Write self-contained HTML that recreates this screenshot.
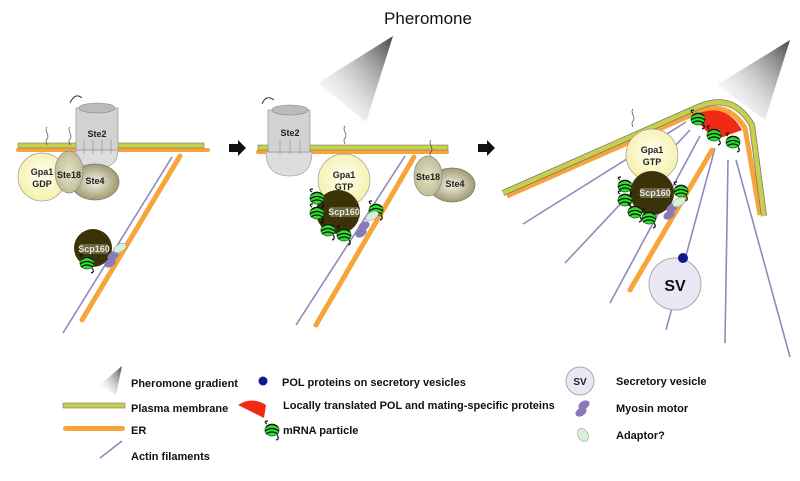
<!DOCTYPE html>
<html><head><meta charset="utf-8"><style>
body{margin:0;background:#fff}
svg{display:block;font-family:"Liberation Sans",Arial,sans-serif}
.l{font-size:11px;font-weight:bold;fill:#111}
.p{font-size:9px;font-weight:bold;fill:#222}
</style></head><body>
<svg width="800" height="481" viewBox="0 0 800 481">
<defs>
<linearGradient id="g1" x1="1" y1="0" x2="0" y2="1"><stop offset="0" stop-color="#444"/><stop offset="1" stop-color="#fff" stop-opacity="0"/></linearGradient>
<radialGradient id="gy" cx=".5" cy=".45" r=".6"><stop offset="0" stop-color="#fffff0"/><stop offset="1" stop-color="#f5efa5"/></radialGradient>
<radialGradient id="gs" cx=".5" cy=".5" r=".6"><stop offset="0" stop-color="#e6e4c8"/><stop offset="1" stop-color="#b9b68f"/></radialGradient>
<radialGradient id="g4" cx=".5" cy=".5" r=".6"><stop offset="0" stop-color="#f4f2e4"/><stop offset="1" stop-color="#8d8a5c"/></radialGradient>
<g id="m"><ellipse cx="0" cy="0" rx="7" ry="6" fill="#2ee02e" stroke="#0a6a0a" stroke-width=".8"/><path d="M-6-3 Q0-8 6-3 M-7 1 Q0-4 7 1 M-6 4 Q0 0 6 4 M-5-6 Q-9-9-4-9 M5 5 Q8 9 4 10" fill="none" stroke="#111" stroke-width="1.2"/></g>
<g id="my"><ellipse cx="0" cy="0" rx="6" ry="4" fill="#8a7ab8" transform="rotate(-30)"/><ellipse cx="-3" cy="7" rx="6" ry="4" fill="#8a7ab8" transform="rotate(-30 -3 7)"/></g>
</defs>
<text x="428" y="24" font-size="17" text-anchor="middle" fill="#111">Pheromone</text>

<!-- Panel 1 -->
<rect x="16" y="148" width="194" height="4" rx="2" fill="#f7a43a"/>
<rect x="18" y="143" width="186" height="5" fill="#c8cf4a" stroke="#777" stroke-width=".6"/>
<line x1="63" y1="333" x2="172" y2="157" stroke="#9189bb" stroke-width="1.6"/>
<line x1="82" y1="320" x2="180" y2="156" stroke="#f7a43a" stroke-width="5" stroke-linecap="round"/>
<path d="M76 150 Q76 168 98 168 Q118 168 118 150Z" fill="#ddd" stroke="#999" stroke-width=".6"/>
<rect x="76" y="108" width="42" height="42" fill="#d2d2d2" stroke="#888" stroke-width=".6"/>
<path d="M84 140v14M93 140v14M102 140v14M111 140v14" stroke="#888" stroke-width=".6"/>
<ellipse cx="97" cy="108" rx="18" ry="5" fill="#bbb" stroke="#888" stroke-width=".6"/>
<path d="M70 103 Q75 92 82 98" fill="none" stroke="#333"/>
<text x="97" y="137" class="p" text-anchor="middle">Ste2</text>
<path d="M47 145q-2-4 0-6t0-6 0-6M70 145q-2-4 0-6t0-6 0-6" fill="none" stroke="#444" stroke-width=".7"/>
<circle cx="42" cy="177" r="24" fill="url(#gy)" stroke="#999" stroke-width=".7"/>
<ellipse cx="95" cy="182" rx="24" ry="18" fill="url(#g4)" stroke="#777" stroke-width=".7"/>
<ellipse cx="69" cy="172" rx="14" ry="21" fill="url(#gs)" stroke="#888" stroke-width=".7"/>
<text x="42" y="175" class="p" text-anchor="middle">Gpa1</text><text x="42" y="187" class="p" text-anchor="middle">GDP</text>
<text x="69" y="178" class="p" text-anchor="middle">Ste18</text><text x="95" y="184" class="p" text-anchor="middle">Ste4</text>
<circle cx="93" cy="248" r="19" fill="#3c3208"/>
<rect x="80" y="244" width="28" height="10" fill="#6a6445"/>
<text x="94" y="252" class="p" text-anchor="middle" fill="#eee" style="fill:#e8e8d8">Scp160</text>
<use href="#m" x="87" y="263"/>
<use href="#my" x="113" y="256"/>
<ellipse cx="120" cy="248" rx="7" ry="4" fill="#d8f0d8" stroke="#888" stroke-width=".5" transform="rotate(-30 120 248)"/>
<path d="M229 144h9v-4l8 8-8 8v-4h-9z" fill="#111"/>

<!-- Panel 2 -->
<polygon points="393,36 318,83 366,122" fill="url(#g1)"/>
<rect x="256" y="150" width="193" height="4" rx="2" fill="#f7a43a"/>
<rect x="258" y="145" width="190" height="5" fill="#c8cf4a" stroke="#777" stroke-width=".6"/>
<line x1="296" y1="325" x2="405" y2="156" stroke="#9189bb" stroke-width="1.6"/>
<line x1="316" y1="325" x2="414" y2="157" stroke="#f7a43a" stroke-width="5" stroke-linecap="round"/>
<path d="M266 152 Q266 176 290 176 Q312 176 312 152Z" fill="#ddd" stroke="#999" stroke-width=".6"/>
<rect x="268" y="110" width="42" height="42" fill="#d2d2d2" stroke="#888" stroke-width=".6"/>
<path d="M280 140v14M290 140v14M300 140v14" stroke="#888" stroke-width=".6"/>
<ellipse cx="290" cy="110" rx="18" ry="5" fill="#bbb" stroke="#888" stroke-width=".6"/>
<path d="M262 104 Q266 94 274 100" fill="none" stroke="#333"/>
<text x="290" y="136" class="p" text-anchor="middle">Ste2</text>
<path d="M345 144q-2-4 0-6t0-6 0-6M431 158q-2-4 0-6t0-6 0-6" fill="none" stroke="#444" stroke-width=".7"/>
<circle cx="344" cy="180" r="26" fill="url(#gy)" stroke="#999" stroke-width=".7"/>
<text x="344" y="178" class="p" text-anchor="middle">Gpa1</text><text x="344" y="190" class="p" text-anchor="middle">GTP</text>
<ellipse cx="452" cy="185" rx="23" ry="17" fill="url(#g4)" stroke="#777" stroke-width=".7"/>
<ellipse cx="428" cy="176" rx="14" ry="20" fill="url(#gs)" stroke="#888" stroke-width=".7"/>
<text x="428" y="180" class="p" text-anchor="middle">Ste18</text><text x="455" y="187" class="p" text-anchor="middle">Ste4</text>
<circle cx="338" cy="212" r="22" fill="#3c3208"/>
<rect x="330" y="207" width="28" height="10" fill="#6a6445"/>
<text x="344" y="215" class="p" text-anchor="middle" style="fill:#e8e8d8">Scp160</text>
<use href="#m" x="317" y="198"/><use href="#m" x="317" y="213"/><use href="#m" x="328" y="230"/><use href="#m" x="344" y="235"/><use href="#m" x="376" y="210"/>
<use href="#my" x="364" y="226"/>
<ellipse cx="372" cy="216" rx="7" ry="4" fill="#d8f0d8" stroke="#888" stroke-width=".5" transform="rotate(-30 372 216)"/>
<path d="M478 144h9v-4l8 8-8 8v-4h-9z" fill="#111"/>

<!-- Panel 3 -->
<polygon points="790,40 717,85 765,120" fill="url(#g1)"/>
<path d="M507 196 L698 112 Q728 100 745 128 L760 215" fill="none" stroke="#f7a43a" stroke-width="5"/>
<path d="M503 193 L698 107 Q733 92 752 125 L764 216" fill="none" stroke="#777" stroke-width="6"/>
<path d="M503 193 L698 107 Q733 92 752 125 L764 216" fill="none" stroke="#c8cf4a" stroke-width="4.5"/>
<path d="M692 116 Q725 100 742 130 L715 140 Z" fill="#f02a14"/>
<g stroke="#9189bb" stroke-width="1.6">
<line x1="523" y1="224" x2="686" y2="122"/><line x1="565" y1="263" x2="690" y2="130"/><line x1="610" y1="303" x2="700" y2="136"/>
<line x1="666" y1="330" x2="715" y2="148"/><line x1="725" y1="343" x2="728" y2="160"/><line x1="790" y1="357" x2="736" y2="160"/></g>
<line x1="630" y1="290" x2="712" y2="150" stroke="#f7a43a" stroke-width="5" stroke-linecap="round"/>
<use href="#m" x="698" y="119"/><use href="#m" x="714" y="135"/><use href="#m" x="733" y="142"/>
<path d="M633 127q-2-4 0-6t0-6 0-6" fill="none" stroke="#444" stroke-width=".7"/>
<circle cx="652" cy="155" r="26" fill="url(#gy)" stroke="#999" stroke-width=".7"/>
<text x="652" y="153" class="p" text-anchor="middle">Gpa1</text><text x="652" y="165" class="p" text-anchor="middle">GTP</text>
<circle cx="652" cy="193" r="22" fill="#3c3208"/>
<rect x="640" y="188" width="30" height="10" fill="#6a6445"/>
<text x="655" y="196" class="p" text-anchor="middle" style="fill:#e8e8d8">Scp160</text>
<use href="#m" x="625" y="186"/><use href="#m" x="625" y="200"/><use href="#m" x="635" y="212"/><use href="#m" x="649" y="218"/><use href="#m" x="681" y="191"/>
<use href="#my" x="672" y="208"/>
<ellipse cx="679" cy="202" rx="7" ry="4" fill="#d8f0d8" stroke="#888" stroke-width=".5" transform="rotate(-30 679 202)"/>
<circle cx="675" cy="284" r="26" fill="#e8e7f3" stroke="#aaa"/>
<text x="675" y="291" font-size="16" font-weight="bold" text-anchor="middle" fill="#111">SV</text>
<circle cx="683" cy="258" r="5" fill="#0e1a8c"/>

<!-- Legend -->
<polygon points="122,366 100,385 116,395" fill="url(#g1)"/>
<rect x="63" y="403" width="62" height="5" fill="#c8cf4a" stroke="#777" stroke-width=".6"/>
<rect x="63" y="426" width="62" height="5" rx="2.5" fill="#f7a43a"/>
<line x1="100" y1="458" x2="122" y2="441" stroke="#9189bb" stroke-width="1.6"/>
<text x="131" y="387" class="l">Pheromone gradient</text>
<text x="131" y="412" class="l">Plasma membrane</text>
<text x="131" y="434" class="l">ER</text>
<text x="131" y="460" class="l">Actin filaments</text>
<circle cx="263" cy="381" r="4.5" fill="#0e1a8c"/>
<path d="M238 405 Q252 396 266 405 L264 418 Z" fill="#f02a14"/>
<use href="#m" x="272" y="430"/>
<text x="282" y="386" class="l">POL proteins on secretory vesicles</text>
<text x="283" y="409" class="l">Locally translated POL and mating-specific proteins</text>
<text x="283" y="434" class="l">mRNA particle</text>
<circle cx="580" cy="381" r="14" fill="#e8e7f3" stroke="#aaa"/>
<text x="580" y="385" font-size="10" font-weight="bold" text-anchor="middle" fill="#222">SV</text>
<use href="#my" x="584" y="405"/>
<ellipse cx="583" cy="435" rx="5" ry="7" fill="#d8f0d8" stroke="#888" stroke-width=".5" transform="rotate(-30 583 435)"/>
<text x="616" y="385" class="l">Secretory vesicle</text>
<text x="616" y="412" class="l">Myosin motor</text>
<text x="616" y="439" class="l">Adaptor?</text>
</svg>
</body></html>
